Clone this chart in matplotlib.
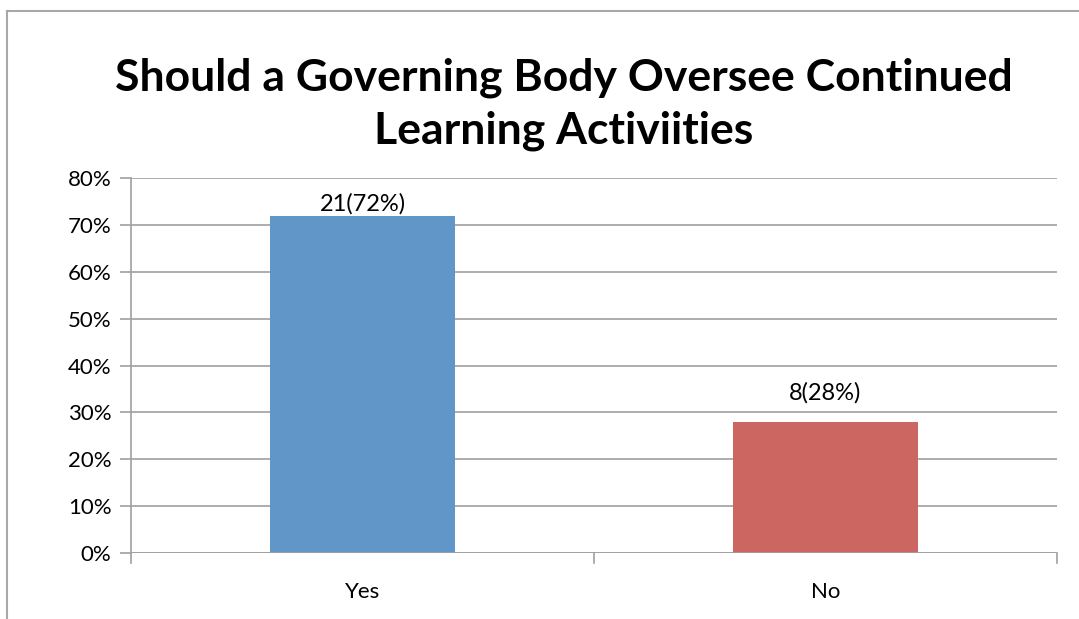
import matplotlib
matplotlib.use("Agg")
import matplotlib.pyplot as plt
from matplotlib.lines import Line2D

categories = ["Yes", "No"]
counts = [21, 8]
shares = [72, 28]
bar_colors = ["#6096c8", "#cb6660"]
y_ticks = [0, 10, 20, 30, 40, 50, 60, 70, 80]

plt.rcParams["font.family"] = ["Lato", "DejaVu Sans"]

fig = plt.figure(figsize=(10.79, 6.19), dpi=100)
ax = fig.add_axes([131 / 1079, 1 - 553 / 619, (1057 - 131) / 1079, (553 - 178) / 619])

x = range(len(categories))
ax.bar(x, shares, width=0.4, color=bar_colors, zorder=3)
# label lift above each bar top, in points
label_lift = [1, 13]
for xi, n, p, lift in zip(x, counts, shares, label_lift):
    ax.annotate(f"{n}({p}%)", (xi, p), xytext=(0, lift), textcoords="offset points",
                ha="center", va="bottom", fontsize=17, color="black")

ax.set_xlim(-0.5, len(categories) - 0.5)
ax.set_ylim(0, 80)
ax.set_yticks(y_ticks)
ax.set_yticklabels([f"{t}%" for t in y_ticks], fontsize=16)
ax.set_xticks(list(x))
ax.set_xticklabels(categories, fontsize=16)
ax.tick_params(axis="x", length=0, pad=21)
ax.tick_params(axis="y", length=8, width=1.2, color="#a0a0a0", pad=6)
ax.grid(axis="y", color="#a0a0a0", linewidth=1.2, zorder=0)
for side in ["top", "right", "bottom"]:
    ax.spines[side].set_visible(False)
ax.spines["left"].set_color("#a0a0a0")
ax.spines["left"].set_linewidth(1.2)
ax.axhline(0, color="#a0a0a0", linewidth=1.2, zorder=4)

# category separators below the baseline
for b in [-0.5, 0.5, 1.5]:
    ax.plot([b, b], [0, -2.2], color="#a0a0a0", linewidth=1.2, clip_on=False, zorder=4)

title_x = 564 / 1079
fig.text(title_x, 1 - 78 / 619, "Should a Governing Body Oversee Continued", ha="center", va="center",
         fontsize=32, fontweight="bold")
fig.text(title_x, 1 - 131 / 619, "Learning Activiities", ha="center", va="center",
         fontsize=32, fontweight="bold")

# outer chart frame (left and top edges)
fig.add_artist(Line2D([7 / 1079, 7 / 1079], [0, 1 - 11 / 619], color="#a8a8a8", linewidth=1.5))
fig.add_artist(Line2D([7 / 1079, 1], [1 - 11 / 619, 1 - 11 / 619], color="#a8a8a8", linewidth=1.5))

fig.savefig("out.png", dpi=100)
